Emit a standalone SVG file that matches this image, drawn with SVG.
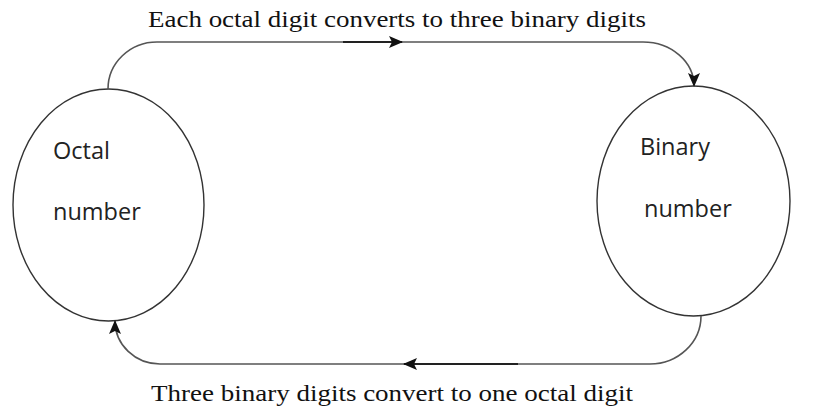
<svg xmlns="http://www.w3.org/2000/svg" width="823" height="414" viewBox="0 0 823 414">
<style>
.node ellipse{fill:#fff;stroke:#333;stroke-width:1.4}
.lbl{font-family:"Open Sans","Noto Sans",sans-serif;font-size:23.5px;fill:#222}
.cap{font-family:"Liberation Serif","Times New Roman",serif;font-size:24px;fill:#111}
.wire{fill:none;stroke:#555;stroke-width:1.6}
.dark{fill:none;stroke:#222;stroke-width:2}
</style>
<defs>
<marker id="ah" markerWidth="14" markerHeight="12" refX="13" refY="6" orient="auto" markerUnits="userSpaceOnUse">
<path d="M0,0 L14,6 L0,12 L3,6 Z" fill="#111"/>
</marker>
</defs>
<rect width="823" height="414" fill="#fff"/>
<g id="octal" class="node">
<ellipse cx="108.5" cy="205" rx="95.5" ry="116"/>
<text class="lbl" x="53" y="159">Octal</text>
<text class="lbl" x="53" y="220">number</text>
</g>
<g id="binary" class="node">
<ellipse cx="693.5" cy="201" rx="96.5" ry="115"/>
<text class="lbl" x="640" y="155">Binary</text>
<text class="lbl" x="644" y="217">number</text>
</g>
<g id="connectors">
<path class="wire" d="M108,89 A49,47 0 0 1 157,42 L643,42 A51,44 0 0 1 694,86" marker-end="url(#ah)"/>
<path class="dark" d="M343,42 L402,42" marker-end="url(#ah)"/>
<path class="wire" d="M701,316 A51,48 0 0 1 650,364 L160,364 A45,43 0 0 1 115,321" marker-end="url(#ah)"/>
<path class="dark" d="M518,364 L404,364" marker-end="url(#ah)"/>
</g>
<g id="labels">
<text class="cap" x="148" y="27" textLength="498" lengthAdjust="spacingAndGlyphs">Each octal digit converts to three binary digits</text>
<text class="cap" x="151" y="401" textLength="482" lengthAdjust="spacingAndGlyphs">Three binary digits convert to one octal digit</text>
</g>
</svg>
